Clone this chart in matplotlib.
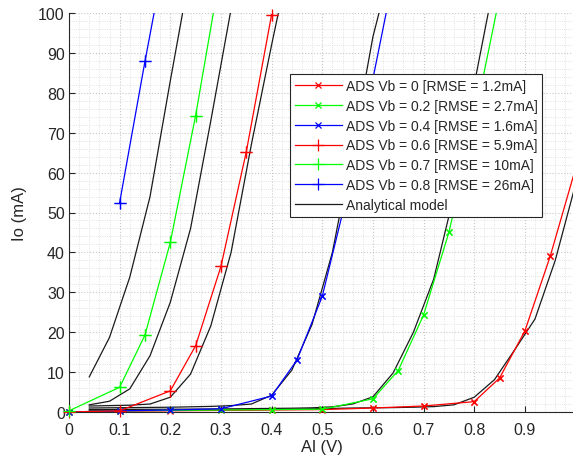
import matplotlib
matplotlib.use("Agg")
import matplotlib.pyplot as plt
from matplotlib.ticker import AutoMinorLocator

plt.rcParams['font.family'] = ['Liberation Sans', 'DejaVu Sans']

# ---- ADS simulation data (Al in V, Io in mA) ----
x_vb00 = [0, 0.1, 0.2, 0.3, 0.4, 0.5, 0.6, 0.7, 0.8, 0.85, 0.9, 0.95, 1.0]
y_vb00 = [0, 0.2, 0.3, 0.4, 0.5, 0.6, 1.0, 1.5, 2.6, 8.5, 20.3, 39, 61]

x_vb02 = [0, 0.1, 0.2, 0.3, 0.4, 0.5, 0.6, 0.65, 0.7, 0.75, 0.8, 0.85]
y_vb02 = [0, 0.3, 0.4, 0.5, 0.6, 0.7, 3.3, 10.4, 24.3, 45, 73, 104]

x_vb04 = [0, 0.1, 0.2, 0.3, 0.4, 0.45, 0.5, 0.55, 0.6, 0.65]
y_vb04 = [0, 0.3, 0.5, 0.8, 4.0, 13, 29, 55, 83.5, 115]

x_vb06 = [0, 0.1, 0.2, 0.25, 0.3, 0.35, 0.4]
y_vb06 = [0, 0.3, 5.3, 16.6, 36.5, 65.2, 99.6]

x_vb07 = [0, 0.1, 0.15, 0.2, 0.25, 0.3]
y_vb07 = [0.3, 6.2, 19.3, 42.5, 74.3, 111]

x_vb08 = [0.1, 0.15, 0.2]
y_vb08 = [52.5, 87.9, 121.5]

# ---- Analytical model curves ----
xm_vb08 = [0.04, 0.08, 0.12, 0.16, 0.20, 0.24]
ym_vb08 = [8.8, 18.7, 33.8, 54, 83, 111]

xm_vb07 = [0.04, 0.08, 0.12, 0.16, 0.20, 0.24, 0.28, 0.32]
ym_vb07 = [1.8, 2.7, 5.8, 14.1, 27.5, 46, 73, 101]

xm_vb06 = [0.04, 0.08, 0.12, 0.16, 0.20, 0.24, 0.28, 0.32, 0.36, 0.40, 0.44]
ym_vb06 = [1.5, 1.6, 1.7, 2.0, 3.7, 9.5, 21.6, 40, 67, 92, 116]

xm_vb04 = [0.04, 0.08, 0.12, 0.16, 0.20, 0.24, 0.28, 0.32, 0.36, 0.40,
           0.44, 0.48, 0.52, 0.56, 0.60, 0.64]
ym_vb04 = [1.0, 1.05, 1.1, 1.15, 1.2, 1.3, 1.4, 1.6, 2.0, 4.2,
           10.5, 22, 40, 66, 94, 114]

xm_vb02 = [0.04, 0.08, 0.12, 0.16, 0.20, 0.24, 0.28, 0.32, 0.36, 0.40,
           0.44, 0.48, 0.52, 0.56, 0.60, 0.64, 0.68, 0.72, 0.76, 0.80, 0.84]
ym_vb02 = [0.6, 0.62, 0.65, 0.68, 0.7, 0.72, 0.75, 0.8, 0.85, 0.9,
           0.95, 1.05, 1.3, 2.0, 3.8, 9.8, 20, 33.3, 54.3, 82, 108]

xm_vb00 = [0.04, 0.08, 0.12, 0.16, 0.20, 0.24, 0.28, 0.32, 0.36, 0.40,
           0.44, 0.48, 0.52, 0.56, 0.60, 0.64, 0.68, 0.72, 0.76, 0.80,
           0.84, 0.88, 0.92, 0.96, 1.00]
ym_vb00 = [0.3, 0.32, 0.35, 0.38, 0.4, 0.45, 0.5, 0.55, 0.6, 0.65,
           0.7, 0.8, 0.9, 1.0, 1.05, 1.1, 1.2, 1.35, 1.8, 3.7,
           8.1, 15.6, 23.3, 38, 57]

labels = ['ADS Vb = 0 [RMSE = 1.2mA]',
          'ADS Vb = 0.2 [RMSE = 2.7mA]',
          'ADS Vb = 0.4 [RMSE = 1.6mA]',
          'ADS Vb = 0.6 [RMSE = 5.9mA]',
          'ADS Vb = 0.7 [RMSE = 10mA]',
          'ADS Vb = 0.8 [RMSE = 26mA]',
          'Analytical model']

xticks = [0, 0.1, 0.2, 0.3, 0.4, 0.5, 0.6, 0.7, 0.8, 0.9]
xticklabels = ['0', '0.1', '0.2', '0.3', '0.4', '0.5', '0.6', '0.7', '0.8', '0.9']
yticks = [0, 10, 20, 30, 40, 50, 60, 70, 80, 90, 100]

fig = plt.figure(figsize=(5.73, 4.64), dpi=100)
ax = fig.add_axes([69 / 573, 51 / 464, 506.5 / 573, 399 / 464])

axis_col = '#262626'

series = [
    (x_vb00, y_vb00, '#ff0000', 'x', 5),
    (x_vb02, y_vb02, '#00ff00', 'x', 5),
    (x_vb04, y_vb04, '#0000ff', 'x', 5),
    (x_vb06, y_vb06, '#ff0000', '+', 8),
    (x_vb07, y_vb07, '#00ff00', '+', 8),
    (x_vb08, y_vb08, '#0000ff', '+', 8),
]

models = [(xm_vb00, ym_vb00), (xm_vb02, ym_vb02), (xm_vb04, ym_vb04),
          (xm_vb06, ym_vb06), (xm_vb07, ym_vb07), (xm_vb08, ym_vb08)]

handles = []
for (xs, ys, c, m, ms), lab in zip(series, labels[:6]):
    h, = ax.plot(xs, ys, color=c, marker=m, markersize=ms, lw=0.9,
                 markeredgewidth=0.9, label=lab, zorder=3)
    handles.append(h)
    # unclipped markers for in-range points (MATLAB does not clip markers)
    xi = [a for a, b in zip(xs, ys) if b <= 100 and a <= 0.99]
    yi = [b for a, b in zip(xs, ys) if b <= 100 and a <= 0.99]
    ax.plot(xi, yi, ls='none', color=c, marker=m, markersize=ms,
            markeredgewidth=0.9, clip_on=False, zorder=3)

mh = None
for xs, ys in models:
    mh, = ax.plot(xs, ys, color='#1a1a1a', lw=0.9, zorder=2)
mh.set_label(labels[6])
handles.append(mh)

ax.set_xlim(0, 1.0)
ax.set_ylim(0, 100)
ax.set_xticks(xticks)
ax.set_yticks(yticks)
ax.set_xticklabels(xticklabels)
ax.set_yticklabels([str(t) for t in yticks])
ax.xaxis.set_minor_locator(AutoMinorLocator(5))
ax.yaxis.set_minor_locator(AutoMinorLocator(5))

ax.grid(True, which='major', color='#c8c8c8', ls=':', lw=0.8)
ax.grid(True, which='minor', color='#dadada', ls=':', lw=0.6)
ax.set_axisbelow(True)

for s in ['top', 'right']:
    ax.spines[s].set_visible(False)
for s in ['left', 'bottom']:
    ax.spines[s].set_color(axis_col)
    ax.spines[s].set_linewidth(0.8)

ax.tick_params(which='major', direction='in', length=4, width=0.8,
               colors=axis_col, labelsize=11.5)
ax.tick_params(which='minor', length=0)
ax.tick_params(axis='x', pad=7)
ax.tick_params(axis='y', pad=3)

ax.set_xlabel('Al (V)', fontsize=12, color=axis_col, labelpad=2)
ax.set_ylabel('Io (mA)', fontsize=12, color=axis_col, labelpad=8)

leg = ax.legend(handles=handles, loc='upper left',
                bbox_to_anchor=(290 / 573, 1 - 75 / 464),
                bbox_transform=fig.transFigure, borderaxespad=0,
                fontsize=10, numpoints=1, handlelength=3.4,
                handletextpad=0.25, labelspacing=0.42, borderpad=0.35,
                fancybox=False, framealpha=1, edgecolor=axis_col)
leg.get_frame().set_linewidth(0.8)
for t in leg.get_texts():
    t.set_color(axis_col)

fig.savefig('out.png', dpi=100)
